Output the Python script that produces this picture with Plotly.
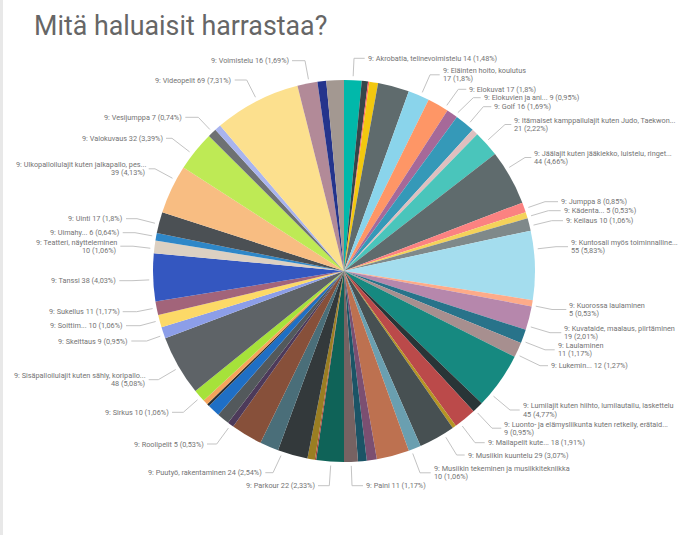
import math
import plotly.graph_objects as go

# ---------------- data ----------------
categories = [
    "Akrobatia, telinevoimistelu", "Amerikkalainen jalkapallo", "Ammunta", "Autourheilu",
    "Ei mitään", "Eläinten hoito, koulutus", "Elokuvat", "Elokuvien ja animaatioiden tekeminen",
    "Golf", "Hevosharrastus", "Itämaiset kamppailulajit kuten Judo, Taekwondo",
    "Jäälajit kuten jääkiekko, luistelu, ringette", "Jumppa", "Kädentaidot", "Keilaus",
    "Kuntosali myös toiminnallinen harjoittelu", "Kuorossa laulaminen",
    "Kuvataide, maalaus, piirtäminen", "Laulaminen", "Lukeminen",
    "Lumilajit kuten hiihto, lumilautailu, laskettelu",
    "Luonto- ja elämysliikunta kuten retkeily, erätaidot", "Mailapelit kuten tennis, sulkapallo",
    "Moottoriurheilu", "Musiikin kuuntelu", "Musiikin tekeminen ja musiikkitekniikka",
    "Ohjelmointi", "Ompelu", "Padel", "Paini", "Parkour", "Partio", "Pilates",
    "Puutyö, rakentaminen", "Pyöräily", "Ratsastus", "Roolipelit", "Ruoanlaitto",
    "Ryhmäliikunta", "Shakki", "Sienestys", "Sirkus",
    "Sisäpalloilulajit kuten sähly, koripallo, lentopallo", "Skeittaus",
    "Soittimen soittaminen", "Sukellus", "Tanssi", "Teatteri, näytteleminen", "Uimahypyt",
    "Uinti", "Ulkopalloilulajit kuten jalkapallo, pesäpallo", "Valokuvaus", "Vesijumppa",
    "Vesipallo", "Videopelit", "Voimistelu", "Yleisurheilu", "Ystävien kanssa oleminen",
]
values = [
    14, 5, 1, 7,
    25, 17, 17, 9,
    16, 5, 21,
    44, 8, 5, 10,
    55, 5,
    19, 11, 12,
    45,
    9, 18,
    3, 29, 10,
    26, 8, 7, 11, 22, 1, 6,
    24, 15, 25, 5, 10,
    10, 2, 4, 10,
    48, 9,
    10, 11, 38, 10, 6,
    17, 39, 32, 7,
    5, 69, 16, 7, 14,
]

# labels shown on the chart: (category, visible name text, two-line label?)
label_names = [
    ("Akrobatia, telinevoimistelu", "Akrobatia, telinevoimistelu", False),
    ("Eläinten hoito, koulutus", "Eläinten hoito, koulutus", True),
    ("Elokuvat", "Elokuvat", False),
    ("Elokuvien ja animaatioiden tekeminen", "Elokuvien ja ani...", False),
    ("Golf", "Golf", False),
    ("Itämaiset kamppailulajit kuten Judo, Taekwondo", "Itämaiset kamppailulajit kuten Judo, Taekwon...", True),
    ("Jäälajit kuten jääkiekko, luistelu, ringette", "Jäälajit kuten jääkiekko, luistelu, ringet...", True),
    ("Jumppa", "Jumppa", False),
    ("Kädentaidot", "Kädenta...", False),
    ("Keilaus", "Keilaus", False),
    ("Kuntosali myös toiminnallinen harjoittelu", "Kuntosali myös toiminnalline...", True),
    ("Kuorossa laulaminen", "Kuorossa laulaminen", True),
    ("Kuvataide, maalaus, piirtäminen", "Kuvataide, maalaus, piirtäminen", True),
    ("Laulaminen", "Laulaminen", True),
    ("Lukeminen", "Lukemin...", False),
    ("Lumilajit kuten hiihto, lumilautailu, laskettelu", "Lumilajit kuten hiihto, lumilautailu, laskettelu", True),
    ("Luonto- ja elämysliikunta kuten retkeily, erätaidot", "Luonto- ja elämysliikunta kuten retkeily, erätaid...", True),
    ("Mailapelit kuten tennis, sulkapallo", "Mailapelit kute...", False),
    ("Musiikin kuuntelu", "Musiikin kuuntelu", False),
    ("Musiikin tekeminen ja musiikkitekniikka", "Musiikin tekeminen ja musiikkitekniikka", True),
    ("Paini", "Paini", False),
    ("Parkour", "Parkour", False),
    ("Puutyö, rakentaminen", "Puutyö, rakentaminen", False),
    ("Roolipelit", "Roolipelit", False),
    ("Sirkus", "Sirkus", False),
    ("Sisäpalloilulajit kuten sähly, koripallo, lentopallo", "Sisäpalloilulajit kuten sähly, koripallo...", True),
    ("Skeittaus", "Skeittaus", False),
    ("Soittimen soittaminen", "Soittim...", False),
    ("Sukellus", "Sukellus", False),
    ("Tanssi", "Tanssi", False),
    ("Teatteri, näytteleminen", "Teatteri, näytteleminen", True),
    ("Uimahypyt", "Uimahy...", False),
    ("Uinti", "Uinti", False),
    ("Ulkopalloilulajit kuten jalkapallo, pesäpallo", "Ulkopalloilulajit kuten jalkapallo, pes...", True),
    ("Valokuvaus", "Valokuvaus", False),
    ("Vesijumppa", "Vesijumppa", False),
    ("Videopelit", "Videopelit", False),
    ("Voimistelu", "Voimistelu", False),
]

title_text = "Mitä haluaisit harrastaa?"
label_prefix = "9"

# ---------------- style / layout ----------------
colors = [
    "#01B8AA", "#374649", "#FD625E", "#F2C80F",
    "#5F6B6D", "#8AD4EB", "#FE9666", "#A66999",
    "#3599B8", "#DFBFBF", "#4AC5BB",
    "#5F6B6D", "#FB8281", "#F4D25A", "#7F898A",
    "#A4DDEE", "#FDAB89",
    "#B687AC", "#28738A", "#A78F8F",
    "#168980",
    "#293537", "#BB4A4A",
    "#B59525", "#475052", "#6A9FB0",
    "#BD7150", "#7B4F71", "#1B5466", "#766262", "#0F6358", "#A8423A", "#9A7E22",
    "#33393B", "#4A6E79", "#87503A", "#4D3A5A", "#53595C",
    "#1F6FC5", "#2A2F33", "#F5A35C", "#A6E23A",
    "#5E6367", "#8C9EE8",
    "#FCD967", "#A2647A", "#3457C0", "#DCD0C2", "#2F87C8",
    "#4B5054", "#F8BD82", "#BEEA55", "#6E7173",
    "#A9B4EE", "#FCE08E", "#B28A98", "#24348C", "#A39891",
]

W, H = 695, 535
CX, CY, R = 344, 271, 191        # pie centre / radius in pixels

# label placement (pixels): side, text edge x, text centre y, elbow x
label_layout = {
    "Akrobatia, telinevoimistelu": ("r", 366.7, 58.3, 354.0),
    "Eläinten hoito, koulutus": ("r", 441.7, 74.8, 430.0),
    "Elokuvat": ("r", 468.3, 89.3, 458.3),
    "Elokuvien ja animaatioiden tekeminen": ("r", 482.7, 97.7, 473.3),
    "Golf": ("r", 493.3, 106.7, 483.3),
    "Itämaiset kamppailulajit kuten Judo, Taekwondo": ("r", 513.3, 124.5, 505.0),
    "Jäälajit kuten jääkiekko, luistelu, ringette": ("r", 533.3, 157.5, 525.0),
    "Jumppa": ("r", 560.0, 201.7, 545.0),
    "Kädentaidot": ("r", 562.7, 210.7, 548.3),
    "Keilaus": ("r", 565.0, 220.7, 551.7),
    "Kuntosali myös toiminnallinen harjoittelu": ("r", 570.0, 246.7, 556.0),
    "Kuorossa laulaminen": ("r", 568.3, 309.5, 552.0),
    "Kuvataide, maalaus, piirtäminen": ("r", 563.3, 332.7, 550.0),
    "Laulaminen": ("r", 556.7, 349.8, 545.0),
    "Lukeminen": ("r", 550.0, 365.7, 540.0),
    "Lumilajit kuten hiihto, lumilautailu, laskettelu": ("r", 521.7, 410.0, 510.0),
    "Luonto- ja elämysliikunta kuten retkeily, erätaidot": ("r", 503.3, 428.2, 492.0),
    "Mailapelit kuten tennis, sulkapallo": ("r", 486.7, 442.7, 475.0),
    "Musiikin kuuntelu": ("r", 466.7, 455.0, 456.7),
    "Musiikin tekeminen ja musiikkitekniikka": ("r", 432.7, 472.8, 420.0),
    "Paini": ("r", 365.0, 485.7, 352.0),
    "Parkour": ("l", 316.0, 485.7, 329.3),
    "Puutyö, rakentaminen": ("l", 263.3, 472.7, 273.0),
    "Roolipelit": ("l", 205.0, 444.0, 216.7),
    "Sirkus": ("l", 170.0, 412.3, 183.3),
    "Sisäpalloilulajit kuten sähly, koripallo, lentopallo": ("l", 146.7, 379.7, 158.3),
    "Skeittaus": ("l", 129.3, 341.0, 146.7),
    "Soittimen soittaminen": ("l", 124.0, 325.7, 140.0),
    "Sukellus": ("l", 120.7, 311.7, 136.7),
    "Tanssi": ("l", 117.3, 280.7, 132.0),
    "Teatteri, näytteleminen": ("l", 118.3, 246.2, 133.0),
    "Uimahypyt": ("l", 120.7, 232.7, 135.0),
    "Uinti": ("l", 124.0, 218.7, 137.0),
    "Ulkopalloilulajit kuten jalkapallo, pesäpallo": ("l", 146.7, 168.8, 155.0),
    "Valokuvaus": ("l", 164.0, 138.3, 172.0),
    "Vesijumppa": ("l", 183.3, 117.3, 198.3),
    "Videopelit": ("l", 232.7, 80.0, 246.7),
    "Voimistelu": ("l", 290.0, 60.7, 305.0),
}

LABEL_FONT = dict(family="Roboto, 'Open Sans', sans-serif", size=7.3, color="#747474")
LINE_COLOR = "#c3c3c3"


def px(x):
    return x / W


def py(y):
    return 1 - y / H


total = sum(values)
starts = {}
acc = 0
for c, v in zip(categories, values):
    starts[c] = (acc, acc + v)
    acc += v
value_of = dict(zip(categories, values))


def fmt_pct(v):
    p = round(100.0 * v / total, 2)
    s = f"{p:.2f}".rstrip("0").rstrip(".")
    return s.replace(".", ",")


fig = go.Figure(
    go.Pie(
        labels=categories,
        values=values,
        sort=False,
        direction="clockwise",
        rotation=0,
        textinfo="none",
        marker=dict(colors=colors, line=dict(width=0)),
        domain=dict(x=[px(CX - R), px(CX + R)], y=[py(CY + R), py(CY - R)]),
        showlegend=False,
        hovertemplate="%{label}<br>%{value} (%{percent})<extra></extra>",
    )
)

shapes = []
annotations = []

# thin light border at the left edge of the visual
shapes.append(dict(type="rect", xref="paper", yref="paper", x0=0, x1=px(3), y0=0, y1=1,
                   fillcolor="#e8e8e8", line=dict(width=0), layer="below"))

for cat, disp, two in label_names:
    side, tx, ty, ex = label_layout[cat]
    v = value_of[cat]
    a0, a1 = starts[cat]
    span = a1 - a0
    # angle (deg, clockwise from 12 o'clock) towards the elbow, clamped inside the slice
    phi = math.degrees(math.atan2(ex - CX, CY - ty)) % 360
    c_target = phi / 360.0 * total
    lo, hi = a0 + 0.15 * span, a1 - 0.15 * span
    c_use = min(max(c_target, lo), hi)
    th = math.radians(c_use / total * 360.0)
    rr = R + 4
    x0, y0 = CX + rr * math.sin(th), CY - rr * math.cos(th)
    x2 = tx - 2 if side == "r" else tx + 2
    path = f"M {px(x0)},{py(y0)} L {px(ex)},{py(ty)} L {px(x2)},{py(ty)}"
    shapes.append(dict(type="path", xref="paper", yref="paper", path=path,
                       line=dict(color=LINE_COLOR, width=1)))
    anchor = "left" if side == "r" else "right"
    vtxt = f"{v} ({fmt_pct(v)}%)"
    if two:
        lines = [(f"{label_prefix}: {disp}", ty - 4.15), (vtxt, ty + 4.15)]
    else:
        lines = [(f"{label_prefix}: {disp} {vtxt}", ty)]
    for t, yy in lines:
        annotations.append(dict(text=t, x=px(tx), y=py(yy), xref="paper", yref="paper",
                                xanchor=anchor, yanchor="middle", showarrow=False,
                                font=LABEL_FONT, borderpad=0))

annotations.append(dict(text=title_text, x=px(33), y=py(26), xref="paper", yref="paper",
                        xanchor="left", yanchor="middle", showarrow=False, borderpad=0,
                        font=dict(family="Roboto, 'Open Sans', sans-serif", size=26.8, color="#666666")))

fig.update_layout(
    width=W, height=H,
    margin=dict(l=0, r=0, t=0, b=0),
    paper_bgcolor="white", plot_bgcolor="white",
    shapes=shapes, annotations=annotations,
)

fig.write_html("out.html")
